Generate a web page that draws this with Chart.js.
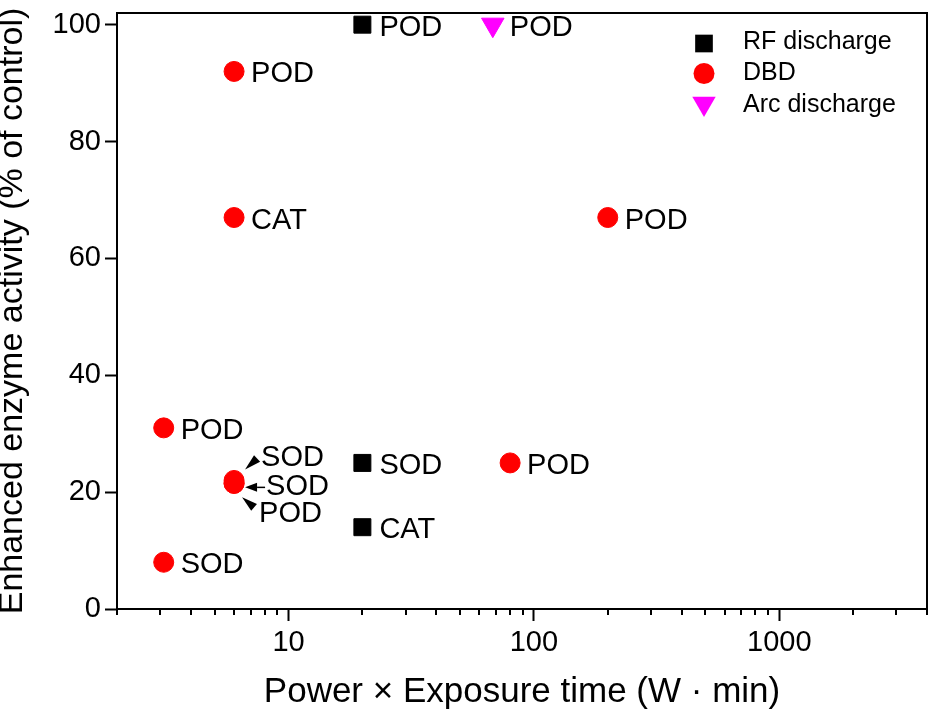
<!DOCTYPE html>
<html>
<head>
<meta charset="utf-8">
<script src="https://cdn.jsdelivr.net/npm/chart.js@4.4.0/dist/chart.umd.min.js"></script>
<style>
  html, body { margin: 0; padding: 0; background: #ffffff; }
  #wrap { width: 930px; height: 713px; position: relative; }
</style>
</head>
<body>
<div id="wrap"><canvas id="c" width="930" height="713"></canvas></div>
<script>
// ---- data ----
const seriesNames = ['RF discharge', 'DBD', 'Arc discharge'];

const rfX = [20, 20, 20];
const rfY = [100, 25, 14];
const rfLabels = ['POD', 'SOD', 'CAT'];

const dbdX = [6, 6, 200, 3.1, 6, 6, 6, 80, 3.1];
const dbdY = [92, 67, 67, 31, 22, 21.5, 21.5, 25, 8];
const dbdLabels = ['POD', 'CAT', 'POD', 'POD', 'SOD', 'SOD', 'POD', 'POD', 'SOD'];

const arcX = [68];
const arcY = [100];
const arcLabels = ['POD'];

const xTicks = [10, 100, 1000];
const xMinorTicks = [2, 3, 4, 5, 6, 7, 8, 9, 20, 30, 40, 50, 60, 70, 80, 90,
                     200, 300, 400, 500, 600, 700, 800, 900, 2000, 3000, 4000];
const yTicks = [0, 20, 40, 60, 80, 100];

const xTitle = 'Power \u00D7 Exposure time (W \u00B7 min)';
const yTitle = 'Enhanced enzyme activity (% of control)';

// ---- build ----
const FONT = '"Liberation Sans", Arial, Helvetica, sans-serif';
const toPts = (xs, ys) => xs.map((x, i) => ({ x: x, y: ys[i] }));
const pointLabels = [rfLabels, dbdLabels, arcLabels];

// call-out placement for the overlapping DBD cluster (relative to the point, px)
const callouts = {
  1: {
    4: { dx: 27, dy: -22, tip: [11, -11], base: [23, -22] },
    5: { dx: 32, dy: 4, tip: [11, 4], base: [23, 4], tail: [31, 4] },
    6: { dx: 25, dy: 31, tip: [8, 14], base: [20, 24] }
  }
};

function drawMarker(ctx, style, x, y, r, color, rotation) {
  ctx.save();
  ctx.fillStyle = color;
  ctx.beginPath();
  if (style === 'rect') {
    const s = Math.SQRT1_2 * r;
    ctx.rect(x - s, y - s, 2 * s, 2 * s);
  } else if (style === 'circle') {
    ctx.arc(x, y, r, 0, Math.PI * 2);
  } else if (style === 'triangle') {
    let a = (rotation || 0) * Math.PI / 180;
    ctx.moveTo(x + Math.sin(a) * r, y - Math.cos(a) * r);
    a += 2 * Math.PI / 3;
    ctx.lineTo(x + Math.sin(a) * r, y - Math.cos(a) * r);
    a += 2 * Math.PI / 3;
    ctx.lineTo(x + Math.sin(a) * r, y - Math.cos(a) * r);
    ctx.closePath();
  }
  ctx.fill();
  ctx.restore();
}

const noPad = s => { s.paddingLeft = 0; s.paddingRight = 0; s.paddingTop = 0; s.paddingBottom = 0; };

const framePlugin = {
  id: 'frame',
  afterDraw(chart) {
    const { ctx, chartArea: ca } = chart;
    const xs = chart.scales.x;
    ctx.save();
    ctx.strokeStyle = '#000';
    ctx.lineWidth = 2;
    ctx.beginPath();
    ctx.moveTo(ca.left, ca.top);
    ctx.lineTo(ca.right, ca.top);
    ctx.lineTo(ca.right, ca.bottom);
    ctx.stroke();
    // minor ticks on x axis
    ctx.beginPath();
    xMinorTicks.forEach(v => {
      const px = Math.round(xs.getPixelForValue(v));
      ctx.moveTo(px, ca.bottom);
      ctx.lineTo(px, ca.bottom + 6);
    });
    ctx.stroke();
    ctx.restore();
  }
};

const labelPlugin = {
  id: 'pointLabels',
  afterDatasetsDraw(chart) {
    const ctx = chart.ctx;
    ctx.save();
    ctx.fillStyle = '#000';
    ctx.font = '29px ' + FONT;
    ctx.textBaseline = 'middle';
    ctx.textAlign = 'left';
    chart.data.datasets.forEach((ds, di) => {
      const meta = chart.getDatasetMeta(di);
      meta.data.forEach((el, i) => {
        const txt = pointLabels[di][i];
        const co = callouts[di] && callouts[di][i];
        if (co) {
          ctx.fillText(txt, el.x + co.dx, el.y + co.dy);
          const tx = el.x + co.tip[0], ty = el.y + co.tip[1];
          const bx = el.x + co.base[0], by = el.y + co.base[1];
          const ang = Math.atan2(by - ty, bx - tx);
          const w = 4.5;
          ctx.beginPath();
          ctx.moveTo(tx, ty);
          ctx.lineTo(bx + Math.sin(ang) * w, by - Math.cos(ang) * w);
          ctx.lineTo(bx - Math.sin(ang) * w, by + Math.cos(ang) * w);
          ctx.closePath();
          ctx.fill();
          if (co.tail) {
            ctx.save();
            ctx.strokeStyle = '#000';
            ctx.lineWidth = 1.5;
            ctx.beginPath();
            ctx.moveTo(bx, by);
            ctx.lineTo(el.x + co.tail[0], el.y + co.tail[1]);
            ctx.stroke();
            ctx.restore();
          }
        } else {
          ctx.fillText(txt, el.x + 17, el.y + 3);
        }
      });
    });
    ctx.restore();
  }
};

const legendPlugin = {
  id: 'customLegend',
  afterDraw(chart) {
    const { ctx, chartArea: ca } = chart;
    const mx = ca.right - 223;
    const tx = ca.right - 184;
    ctx.save();
    ctx.font = '25px ' + FONT;
    ctx.fillStyle = '#000';
    ctx.textBaseline = 'middle';
    ctx.textAlign = 'left';
    chart.data.datasets.forEach((ds, i) => {
      const ry = ca.top + 29 + i * 31.5;
      let my = ry;
      if (ds.pointStyle === 'rect') my = ry + 1.5;
      if (ds.pointStyle === 'triangle') my = ry - 1.5;
      drawMarker(ctx, ds.pointStyle, mx, my, ds.pointRadius + 0.5, ds.backgroundColor, ds.pointRotation);
      ctx.fillStyle = '#000';
      ctx.fillText(seriesNames[i], tx, ry);
    });
    ctx.restore();
  }
};

new Chart(document.getElementById('c'), {
  type: 'scatter',
  data: {
    datasets: [
      { label: seriesNames[0], data: toPts(rfX, rfY), pointStyle: 'rect', pointRadius: 12,
        backgroundColor: '#000000', borderColor: '#000000', borderWidth: 1, pointRotation: 0 },
      { label: seriesNames[1], data: toPts(dbdX, dbdY), pointStyle: 'circle', pointRadius: 10,
        backgroundColor: '#ff0000', borderColor: '#ff0000', borderWidth: 1, pointRotation: 0 },
      { label: seriesNames[2], data: toPts(arcX, arcY), pointStyle: 'triangle', pointRadius: 13,
        backgroundColor: '#ff00ff', borderColor: '#ff00ff', borderWidth: 1, pointRotation: 180 }
    ]
  },
  options: {
    responsive: false,
    animation: false,
    devicePixelRatio: 1,
    layout: { autoPadding: false, padding: { top: 13, right: 3, left: 0, bottom: 0 } },
    plugins: { legend: { display: false }, tooltip: { enabled: false } },
    events: [],
    scales: {
      x: {
        type: 'logarithmic', position: 'bottom', min: 2, max: 4000,
        afterBuildTicks: s => { s.ticks = xTicks.map(v => ({ value: v })); },
        afterFit: s => { s.height = 104; noPad(s); },
        ticks: { callback: v => String(v), color: '#000', font: { size: 29, family: FONT },
                 padding: 5, maxRotation: 0, autoSkip: false },
        grid: { drawOnChartArea: false, drawTicks: true, tickLength: 12, tickWidth: 2, tickColor: '#000' },
        border: { display: true, color: '#000', width: 2 },
        title: { display: true, text: xTitle, color: '#000', font: { size: 35, family: FONT }, padding: 0 }
      },
      y: {
        type: 'linear', position: 'left', min: 0, max: 102,
        afterBuildTicks: s => { s.ticks = yTicks.map(v => ({ value: v })); },
        afterFit: s => { s.width = 117; noPad(s); },
        ticks: { callback: v => String(v), color: '#000', font: { size: 29, family: FONT }, padding: 4 },
        grid: { drawOnChartArea: false, drawTicks: true, tickLength: 12, tickWidth: 2, tickColor: '#000' },
        border: { display: true, color: '#000', width: 2 },
        title: { display: true, text: yTitle, color: '#000',
                 font: { size: 34, family: FONT, lineHeight: 0.75 }, padding: 0 }
      }
    }
  },
  plugins: [framePlugin, labelPlugin, legendPlugin]
});
</script>
</body>
</html>
